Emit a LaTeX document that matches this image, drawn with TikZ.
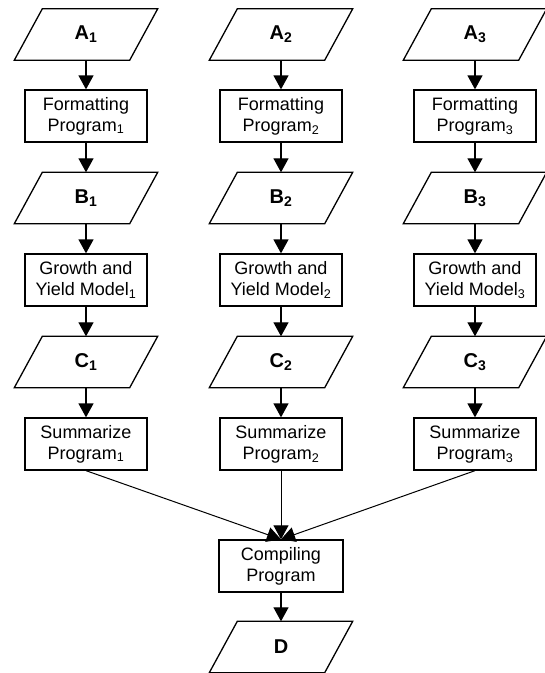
\documentclass[tikz,border=0pt]{standalone}
\usepackage{fontspec}
\setmainfont{Liberation Sans}
\usetikzlibrary{arrows.meta}
\begin{document}
\begin{tikzpicture}[x=1pt,y=-1pt,
  proc/.style={draw, line width=1.3pt, minimum width=122pt, minimum height=52pt,
    inner sep=0pt, align=center, font=\fontsize{18}{21}\selectfont},
  data/.style={minimum width=87pt, minimum height=51pt, inner sep=0pt,
    font=\fontsize{20}{22}\selectfont\bfseries},
  outline/.style={line width=1.3pt, line join=miter},
  flow/.style={line width=1.3pt, -{Triangle[width=15pt,length=14pt]}},
  feed/.style={line width=1pt, -{Triangle[width=15pt,length=14pt]}}]

\useasboundingbox (0,0) rectangle (545,673);

% three parallel processing chains
\foreach \i/\x in {1/86, 2/281, 3/475} {
  \node[data] (A\i) at (\x,34.5) {A\textsubscript{\i}};
  \node[proc] (F\i) at (\x,116) {Formatting\\Program\textsubscript{\i}};
  \node[data] (B\i) at (\x,198) {B\textsubscript{\i}};
  \node[proc] (G\i) at (\x,280) {Growth and\\Yield Model\textsubscript{\i}};
  \node[data] (C\i) at (\x,362) {C\textsubscript{\i}};
  \node[proc] (S\i) at (\x,444) {Summarize\\Program\textsubscript{\i}};
  \draw[flow] (A\i) -- (F\i);
  \draw[flow] (F\i) -- (B\i);
  \draw[flow] (B\i) -- (G\i);
  \draw[flow] (G\i) -- (C\i);
  \draw[flow] (C\i) -- (S\i);
}

% merging step
\node[proc, minimum width=124pt] (P) at (281,566) {Compiling\\Program};
\node[data] (D) at (281,647) {D};
\foreach \i in {1,2,3} \draw[feed] (S\i.south) -- (P.north);
\draw[flow] (P) -- (D);

% data symbols drawn as parallelograms around their labels
\foreach \n in {A1,A2,A3,B1,B2,B3,C1,C2,C3,D}
  \draw[outline] (\n.north west) -- ([xshift=28pt]\n.north east)
    -- (\n.south east) -- ([xshift=-28pt]\n.south west) -- cycle;
\end{tikzpicture}
\end{document}
